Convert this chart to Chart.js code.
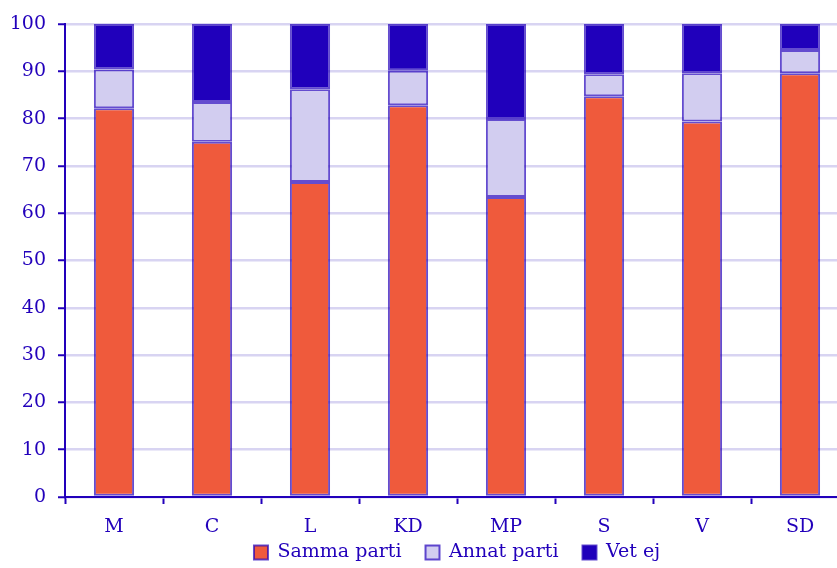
<!DOCTYPE html>
<html>
<head>
<meta charset="utf-8">
<script src="https://cdn.jsdelivr.net/npm/chart.js@4"></script>
<style>
  html, body { margin: 0; padding: 0; overflow: hidden; background: #fff; }
  #wrap { width: 849px; height: 568px; }
</style>
</head>
<body>
<div id="wrap"><canvas id="partier"></canvas></div>
<script>
const partier = ['M', 'C', 'L', 'KD', 'MP', 'S', 'V', 'SD'];
const sammaParti = [82.2, 75.1, 66.6, 82.8, 63.4, 84.7, 79.4, 89.6];
const annatParti = [8.2, 8.4, 19.6, 7.3, 16.5, 4.7, 10.2, 4.9];
const vetEj = [9.6, 16.5, 13.8, 9.9, 20.1, 10.6, 10.4, 5.5];
const yTicks = [0, 10, 20, 30, 40, 50, 60, 70, 80, 90, 100];

const bla = '#2200bb';
const typsnitt = { family: '"DejaVu Serif", serif', size: 19 };

// legenden ligger tätt under x-axeln, men med luft mellan posterna
const lyftLegend = {
  id: 'lyftLegend',
  afterLayout(chart) {
    chart.legend.top -= 20;
    chart.legend.bottom = chart.height;
  }
};

new Chart(document.getElementById('partier'), {
  type: 'bar',
  data: {
    labels: partier,
    datasets: [
      { label: 'Samma parti', data: sammaParti, backgroundColor: '#ef5a3c' },
      { label: 'Annat parti', data: annatParti, backgroundColor: '#d2cdf0' },
      { label: 'Vet ej', data: vetEj, backgroundColor: '#2000bb' }
    ].map(d => Object.assign(d, {
      borderColor: 'rgba(34,0,187,0.7)',
      borderWidth: 2,
      borderSkipped: false,
      barPercentage: 0.41,
      categoryPercentage: 1
    }))
  },
  plugins: [lyftLegend],
  options: {
    responsive: true,
    maintainAspectRatio: false,
    animation: false,
    layout: { padding: { top: 24, left: 0, right: 0, bottom: 0 } },
    plugins: {
      title: { display: false },
      tooltip: { enabled: false },
      legend: {
        position: 'bottom',
        fullSize: false,
        maxHeight: 29,
        labels: {
          color: bla,
          font: typsnitt,
          boxWidth: 14,
          boxHeight: 14,
          padding: 24
        }
      }
    },
    scales: {
      x: {
        stacked: true,
        border: { color: bla, width: 2 },
        grid: { drawOnChartArea: false, drawTicks: true, tickColor: bla, tickLength: 7, tickWidth: 2, offset: true },
        ticks: { color: bla, font: typsnitt, padding: 12, maxRotation: 0, autoSkip: false },
        afterFit: s => { s.height = 42; }
      },
      y: {
        stacked: true,
        min: 0,
        max: 100,
        afterBuildTicks: s => { s.ticks = yTicks.map(v => ({ value: v })); },
        border: { color: bla, width: 2 },
        grid: { color: '#d8d4f2', lineWidth: 2.5, tickColor: bla, tickLength: 7, tickWidth: 2 },
        ticks: { color: bla, font: typsnitt, padding: 12 },
        afterFit: s => { s.width = 65; }
      }
    }
  }
});
</script>
</body>
</html>
